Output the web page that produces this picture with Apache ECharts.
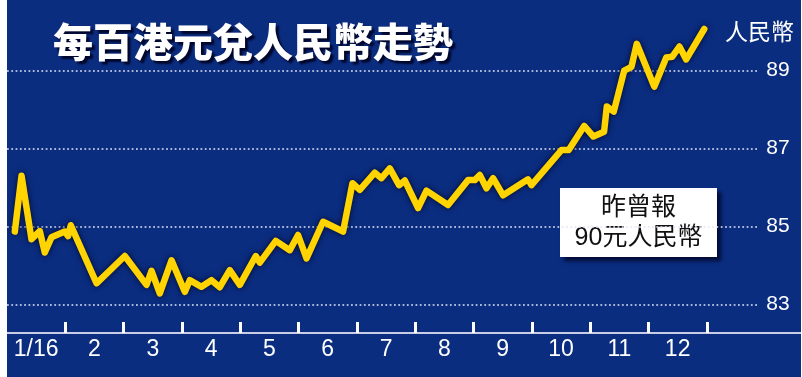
<!DOCTYPE html>
<html>
<head>
<meta charset="utf-8">
<script src="https://cdn.jsdelivr.net/npm/echarts@6/dist/echarts.min.js"></script>
<style>
  html, body { margin: 0; padding: 0; background: #ffffff; width: 802px; height: 377px; overflow: hidden; }
  #c { position: absolute; left: 7px; top: 0; width: 794px; height: 377px; }
</style>
</head>
<body>
<div id="c"></div>
<script>
// ---- data ----
const monthLabels = ['1/16', '2', '3', '4', '5', '6', '7', '8', '9', '10', '11', '12'];
// position along the year, in months elapsed since the start of January 2016
const xMonths = [0.134, 0.249, 0.420, 0.562, 0.648, 0.763, 0.991, 1.048, 1.094, 1.535,
  2.020, 2.392, 2.478, 2.620, 2.821, 3.049, 3.134, 3.335, 3.506, 3.649,
  3.820, 3.992, 4.266, 4.335, 4.609, 4.849, 4.991, 5.136, 5.420, 5.763,
  5.924, 6.049, 6.307, 6.421, 6.564, 6.723, 6.821, 7.049, 7.193, 7.563,
  7.906, 8.021, 8.107, 8.222, 8.335, 8.507, 8.934, 8.993, 9.507, 9.632,
  9.897, 10.055, 10.238, 10.285, 10.405, 10.583, 10.708, 10.799, 11.099, 11.305,
  11.408, 11.530, 11.646, 11.956];
// RMB per 100 HKD
const rates = [84.87, 86.30, 84.67, 84.88, 84.33, 84.72, 84.87, 84.75, 85.03, 83.54,
  84.24, 83.50, 83.86, 83.28, 84.13, 83.32, 83.62, 83.45, 83.62, 83.44,
  83.88, 83.50, 84.24, 84.07, 84.63, 84.39, 84.78, 84.18, 85.12, 84.87,
  86.11, 85.94, 86.38, 86.24, 86.49, 86.06, 86.18, 85.47, 85.92, 85.55,
  86.19, 86.19, 86.32, 85.98, 86.24, 85.80, 86.21, 86.06, 86.96, 86.96,
  87.58, 87.31, 87.43, 88.08, 87.95, 89.00, 89.10, 89.69, 88.59, 89.34,
  89.36, 89.62, 89.29, 90.07];
const yTickValues = [83, 85, 87, 89];
const titleText = '每百港元兌人民幣走勢';
const unitText = '人民幣';
const noteText = '昨曾報\n90元人民幣';

const seriesData = xMonths.map((m, i) => [m, rates[i]]);

const chart = echarts.init(document.getElementById('c'), null, { renderer: 'canvas' });
const white = '#ffffff';
const numFont = '"Liberation Sans", Arial, sans-serif';
const cjkFont = '"Liberation Sans", "Noto Sans CJK TC", sans-serif';

chart.setOption({
  backgroundColor: '#0b2d80',
  animation: false,
  title: [
    {
      text: titleText,
      left: 41, top: 17,
      textStyle: {
        color: white, fontSize: 40, fontWeight: 900,
        fontFamily: '"Noto Sans CJK TC", sans-serif',
        textShadowColor: 'rgba(0,5,40,0.95)', textShadowOffsetX: 3, textShadowOffsetY: 3, textShadowBlur: 2
      }
    },
    {
      text: unitText,
      right: 2, top: 15,
      textStyle: { color: white, fontSize: 23, fontWeight: 'normal', fontFamily: '"Noto Sans CJK TC", sans-serif' }
    }
  ],
  grid: [
    { left: 0, right: 41.7, top: -7.2, bottom: -5.2, containLabel: false, outerBoundsMode: 'none' },
    { left: 0, right: 94.2, top: 200, bottom: 44, containLabel: false, outerBoundsMode: 'none' },
    { left: 0, right: 0, top: 200, bottom: 44, containLabel: false, outerBoundsMode: 'none' }
  ],
  xAxis: [
    { type: 'value', gridIndex: 0, min: 0, max: 12.9, show: false },
    {
      type: 'category', gridIndex: 1, data: monthLabels, boundaryGap: true,
      axisLine: { show: false },
      axisTick: { show: true, inside: true, length: 11, interval: (idx) => idx !== 0, lineStyle: { color: white, width: 3 } },
      axisLabel: { color: white, fontSize: 23, fontFamily: numFont, margin: 5 },
      splitLine: { show: false }
    },
    {
      type: 'value', gridIndex: 2, min: 0, max: 1,
      axisLine: { show: true, lineStyle: { color: '#c9cde8', width: 2 } },
      axisTick: { show: false }, axisLabel: { show: false }, splitLine: { show: false }
    }
  ],
  yAxis: [
    {
      type: 'value', gridIndex: 0, position: 'right', min: 81, max: 91, interval: 2,
      axisLine: { show: false }, axisTick: { show: false },
      axisLabel: {
        color: white, fontSize: 21, fontFamily: numFont, margin: 7,
        formatter: (v) => (yTickValues.indexOf(v) >= 0 ? String(v) : '')
      },
      splitLine: { show: true, lineStyle: { color: '#dfe3f5', width: 1.5, type: [1.8, 2.5] } }
    },
    { type: 'value', gridIndex: 1, show: false },
    { type: 'value', gridIndex: 2, show: false }
  ],
  graphic: [
    {
      type: 'group',
      children: [
        {
          type: 'rect',
          shape: { x: 553, y: 188, width: 157, height: 69 },
          style: { fill: '#ffffff', shadowColor: 'rgba(0,5,40,0.85)', shadowBlur: 4, shadowOffsetX: 4, shadowOffsetY: 4 }
        },
        {
          type: 'text',
          x: 631.5, y: 223.5,
          style: {
            text: noteText, fill: '#111111', font: '25px ' + cjkFont,
            lineHeight: 30, align: 'center', verticalAlign: 'middle'
          }
        }
      ]
    }
  ],
  series: [
    {
      type: 'line', xAxisIndex: 0, yAxisIndex: 0, data: seriesData,
      showSymbol: false, symbol: 'none', smooth: false,
      lineStyle: {
        color: '#ffd400', width: 6.5, join: 'round', cap: 'round',
        shadowColor: 'rgba(0,5,35,0.9)', shadowBlur: 6
      },
      z: 3
    }
  ]
});
</script>
</body>
</html>
